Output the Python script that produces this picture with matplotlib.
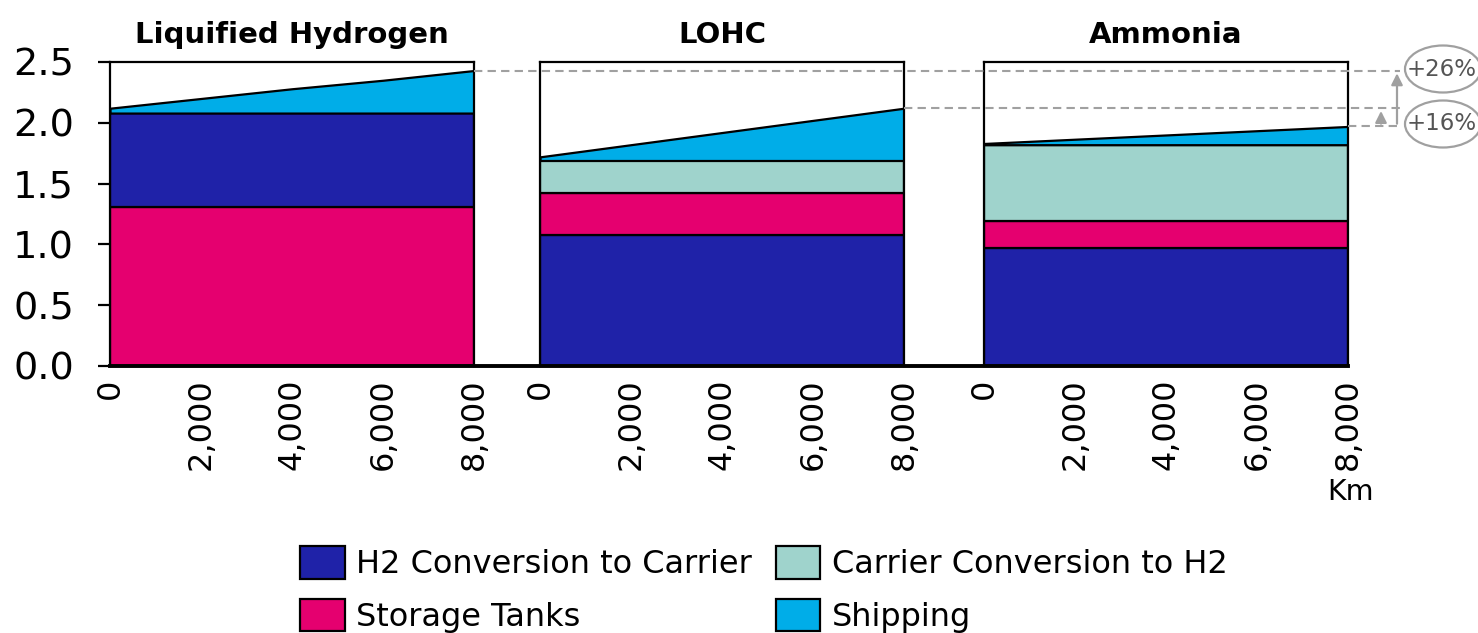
import matplotlib
matplotlib.use("Agg")
import matplotlib.pyplot as plt
from matplotlib.lines import Line2D
from matplotlib.patches import Patch, Ellipse
from matplotlib.transforms import blended_transform_factory

# transport distance (km) and cost build-up per carrier
distance_km = [0, 2000, 4000, 6000, 8000]
carriers = ["Liquified Hydrogen", "LOHC", "Ammonia"]
h2_conversion = [0.77, 1.08, 0.97]
storage_tanks = [1.31, 0.34, 0.22]
carrier_conversion = [0.0, 0.27, 0.63]
shipping = [
    [0.04, 0.12, 0.20, 0.27, 0.35],
    [0.03, 0.13, 0.23, 0.33, 0.43],
    [0.01, 0.045, 0.08, 0.115, 0.15],
]
uplift_labels = ["+26%", "+16%"]

x_ticks = [0, 2000, 4000, 6000, 8000]
x_ticklabels = ["0", "2,000", "4,000", "6,000", "8,000"]
y_ticks = [0.0, 0.5, 1.0, 1.5, 2.0, 2.5]

col_h2 = "#1f22a8"
col_store = "#e5006f"
col_carrier = "#9fd3cc"
col_ship = "#00ade8"
grey = "#a0a0a0"

plt.rcParams['font.family'] = ['DejaVu Sans']

fig = plt.figure(figsize=(14.78, 6.33), dpi=100)
W, H = 1478, 633
lefts = [110, 540, 984]
pw = 364
bottom, top = 366, 62

axes = []
for i, name in enumerate(carriers):
    ax = fig.add_axes([lefts[i] / W, 1 - bottom / H, pw / W, (bottom - top) / H])
    n = len(distance_km)
    h2 = [h2_conversion[i]] * n
    st = [storage_tanks[i]] * n
    cc = [carrier_conversion[i]] * n
    if i == 0:
        layers = [st, h2, shipping[i]]
        cols = [col_store, col_h2, col_ship]
    else:
        layers = [h2, st, cc, shipping[i]]
        cols = [col_h2, col_store, col_carrier, col_ship]
    ax.stackplot(distance_km, *layers, colors=cols, edgecolor="black", linewidth=1.6)
    ax.set_xlim(0, 8000)
    ax.set_ylim(0, 2.5)
    for sp in ax.spines.values():
        sp.set_linewidth(1.6)
        sp.set_color("black")
    ax.set_xticks(x_ticks)
    ax.set_xticklabels(x_ticklabels, rotation=90, va="top", fontsize=23)
    ax.tick_params(axis="x", length=0, pad=9)
    if i == 0:
        ax.set_yticks(y_ticks)
        ax.set_yticklabels(["%.1f" % v for v in y_ticks], fontsize=27.5)
        ax.tick_params(axis="y", length=9, width=1.6, pad=17)
    else:
        ax.set_yticks([])
    ax.set_title(name, fontsize=21, fontweight="bold", pad=14)
    axes.append(ax)

# continuous baseline under all panels
fig.add_artist(Line2D([lefts[0] / W, (lefts[2] + pw) / W], [1 - bottom / H] * 2,
                      transform=fig.transFigure, color="black", lw=2.8))

fig.text(1350 / W, 1 - 492 / H, "Km", fontsize=20.5, ha="center", va="center")

# end-of-route totals compared against ammonia
ends = [storage_tanks[i] + h2_conversion[i] + carrier_conversion[i] + shipping[i][-1]
        for i in range(3)]
trans = blended_transform_factory(fig.transFigure, axes[0].transData)
x_end = 1400 / W
for i in range(3):
    x0 = (lefts[i] + pw) / W
    fig.add_artist(Line2D([x0, x_end], [ends[i]] * 2, transform=trans,
                          color=grey, lw=1.5, ls=(0, (4, 2.5))))

axes[0].annotate("", xy=(1397 / W, ends[0]), xytext=(1397 / W, ends[2]),
                 xycoords=trans, textcoords=trans, annotation_clip=False,
                 arrowprops=dict(arrowstyle="-|>", color=grey, lw=1.6, mutation_scale=17))
axes[0].annotate("", xy=(1381 / W, ends[1]), xytext=(1381 / W, ends[2]),
                 xycoords=trans, textcoords=trans, annotation_clip=False,
                 arrowprops=dict(arrowstyle="-|>", color=grey, lw=1.6, mutation_scale=17))

for lab, yp in zip(uplift_labels, [69, 124]):
    fig.add_artist(Ellipse((1443 / W, 1 - yp / H), 76 / W, 47 / H,
                           transform=fig.transFigure, fc="white", ec=grey, lw=1.6))
    fig.text(1442 / W, 1 - yp / H, lab, fontsize=16.5, color="#555555",
             ha="center", va="center")

handles = [
    Patch(facecolor=col_h2, edgecolor="black", lw=1.6, label="H2 Conversion to Carrier"),
    Patch(facecolor=col_store, edgecolor="black", lw=1.6, label="Storage Tanks"),
    Patch(facecolor=col_carrier, edgecolor="black", lw=1.6, label="Carrier Conversion to H2"),
    Patch(facecolor=col_ship, edgecolor="black", lw=1.6, label="Shipping"),
]
fig.legend(handles=handles, ncol=2, loc="upper left",
           bbox_to_anchor=(300 / W, 1 - 546 / H), frameon=False, fontsize=23,
           handlelength=1.4, handleheight=1.2, handletextpad=0.35,
           columnspacing=0.75, labelspacing=0.58, borderpad=0, borderaxespad=0)

fig.savefig("out.png", dpi=100)
